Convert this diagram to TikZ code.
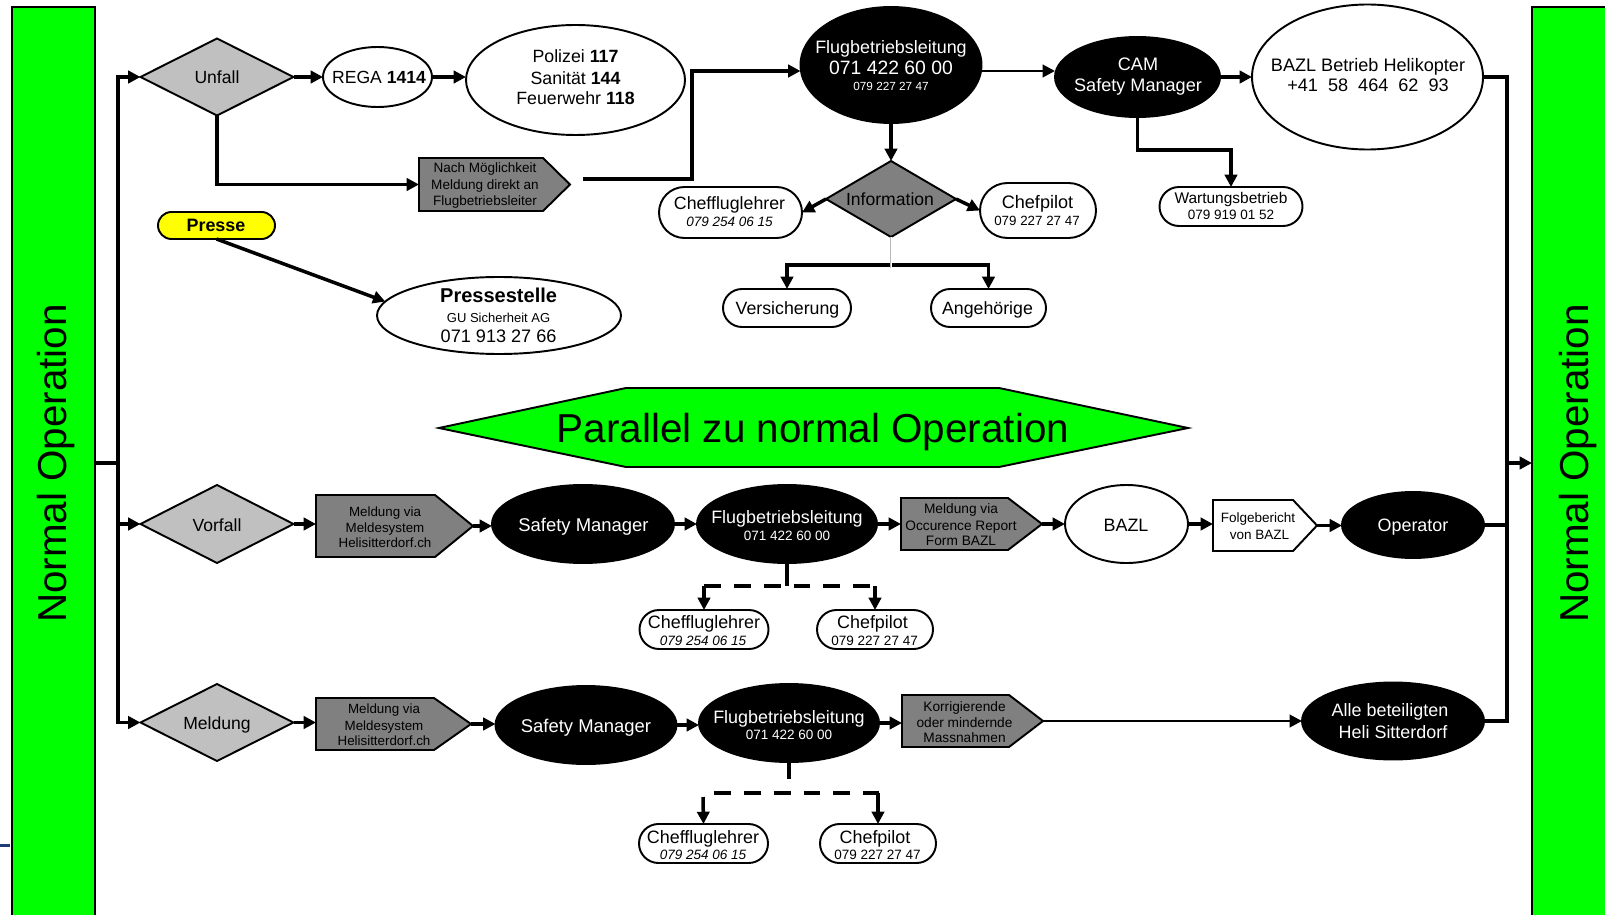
\documentclass[tikz,border=0pt]{standalone}
\usepackage{fontspec}
\setmainfont{Liberation Sans}
\usetikzlibrary{shapes.geometric,shapes.misc,arrows.meta,calc}
\definecolor{ngreen}{HTML}{00FF00}
\definecolor{lgray}{HTML}{C0C0C0}
\definecolor{dgray}{HTML}{808080}
\definecolor{nyellow}{HTML}{FFFF00}
\definecolor{navyblue}{HTML}{1F3A78}
\newcommand\fsz[1]{\fontsize{#1pt}{#1pt}\selectfont}
% #1 name, #2 x left, #3 x end of flat part, #4 x tip, #5 y top, #6 y bottom, #7 fill
\newcommand\mypenta[7]{%
  \draw[outl, fill=#7] (#2,#5) -- (#3,#5) -- (#4,{(#5+#6)/2}) -- (#3,#6) -- (#2,#6) -- cycle;
  \coordinate (#1-w) at (#2,{(#5+#6)/2});
  \coordinate (#1-e) at (#4,{(#5+#6)/2});}
\begin{document}
\begin{tikzpicture}[x=0.02cm,y=-0.02cm,
  outl/.style={draw=black, line width=1.1pt},
  sz/.style 2 args={minimum width={#1*0.02cm}, minimum height={#2*0.02cm}},
  basic/.style={inner sep=0pt, outer sep=0pt},
  ell/.style={basic, ellipse, outl, fill=white},
  bell/.style={basic, ellipse, outl, fill=black},
  dia/.style={basic, diamond, outl},
  stad/.style={basic, rounded rectangle, outl, fill=white},
  tx/.style={inner sep=0pt, anchor=base, text=black},
  wtx/.style={inner sep=0pt, anchor=base, text=white},
  ln/.style={line width=2pt},
  conn/.style={line width=2pt, -{Triangle[length=7pt,width=7pt]}},
  thinconn/.style={line width=1.6pt, -{Triangle[length=7pt,width=7pt]}},
  dln/.style={line width=2.2pt, dash pattern=on 9.6pt off 7.4pt},
]
\useasboundingbox (0,0) rectangle (1605,915);
\fill[white] (0,0) rectangle (1605,915);

% side bars
\node[basic, rectangle, outl, fill=ngreen, sz={83}{918}] (leftbar) at (53.5,466) {};
\node[basic, rectangle, outl, fill=ngreen, sz={88}{918}] (rightbar) at (1576,466) {};
\node[tx, rotate=90, font=\fsz{23}] (lefttxt) at (66,463.5) {Normal Operation};
\node[tx, rotate=90, font=\fsz{23}] (righttxt) at (1588,463.5) {Normal Operation};
\draw[navyblue, line width=1.7pt] (0,845) -- (10,845);

% ---------- top row (Unfall)
\node[dia, fill=lgray, sz={153}{77}] (unfall) at (217,77) {};
\node[tx, font=\fsz{10}] (unfall-t) at (217,84) {Unfall};
\node[ell, sz={109}{60}] (rega) at (377.5,77) {};
\node[tx, font=\fsz{10}] (rega-t) at (379,84) {REGA \textbf{1414}};
\node[ell, sz={219}{110}] (polizei) at (575.5,80) {};
\node[tx, font=\fsz{10.1}] (pol-a) at (575.5,63) {Polizei \textbf{117}};
\node[tx, font=\fsz{10.1}] (pol-b) at (575.5,85) {Sanität \textbf{144}};
\node[tx, font=\fsz{10.1}] (pol-c) at (575.5,105) {Feuerwehr \textbf{118}};

\mypenta{nach}{419}{543}{570}{158}{211}{dgray}
\node[tx, font=\fsz{7.7}] (nach-a) at (485,173) {Nach Möglichkeit};
\node[tx, font=\fsz{7.7}] (nach-b) at (485,190) {Meldung direkt an};
\node[tx, font=\fsz{7.7}] (nach-c) at (485,206) {Flugbetriebsleiter};

\node[bell, sz={181}{116}] (flug1) at (891,65) {};
\node[wtx, font=\fsz{10.2}] (flug1-a) at (891,54) {Flugbetriebsleitung};
\node[wtx, font=\fsz{11}] (flug1-b) at (891,75) {071 422 60 00};
\node[wtx, font=\fsz{6.7}] (flug1-c) at (891,91) {079 227 27 47};

\node[bell, sz={165}{80}] (cam) at (1137.5,77) {};
\node[wtx, font=\fsz{10.3}] (cam-a) at (1138,71) {CAM};
\node[wtx, font=\fsz{10.3}] (cam-b) at (1138,92) {Safety Manager};

\node[ell, sz={231}{145}] (bazl1) at (1367.5,77) {};
\node[tx, font=\fsz{10.3}] (bazl1-a) at (1368,72) {BAZL Betrieb Helikopter};
\node[tx, font=\fsz{10.3}] (bazl1-b) at (1368,92) {+41~~58~~464~~62~~93};

\node[stad, sz={143}{39}] (wart) at (1231,206.5) {};
\node[tx, font=\fsz{8.8}] (wart-a) at (1231,204) {Wartungsbetrieb};
\node[tx, font=\fsz{7.7}] (wart-b) at (1231,220) {079 919 01 52};

\node[dia, fill=dgray, sz={130}{76}] (info) at (891,199) {};
\node[tx, font=\fsz{10}] (info-t) at (890,206) {Information};

\node[stad, sz={143}{51}] (cfl1) at (730.5,212.5) {};
\node[tx, font=\fsz{10.1}] (cfl1-a) at (729.5,210) {Cheffluglehrer};
\node[tx, font=\fsz{7.7}\itshape] (cfl1-b) at (729.5,227) {079 254 06 15};

\node[stad, sz={116}{55}] (cp1) at (1038,210.5) {};
\node[tx, font=\fsz{10.3}] (cp1-a) at (1037.5,209) {Chefpilot};
\node[tx, font=\fsz{7.6}] (cp1-b) at (1037,226) {079 227 27 47};

\node[stad, sz={128}{38}] (vers) at (787,308) {};
\node[tx, font=\fsz{10.1}] (vers-t) at (787.5,315) {Versicherung};
\node[stad, sz={115}{38}] (angeh) at (988.5,308) {};
\node[tx, font=\fsz{10.1}] (angeh-t) at (987.5,315) {Angehörige};

\node[stad, fill=nyellow, sz={117}{27}] (presse) at (216.5,225.5) {};
\node[tx, font=\fsz{10.2}\bfseries] (presse-t) at (216,232) {Presse};

\node[ell, sz={244}{77}] (pstelle) at (499,315.5) {};
\node[tx, font=\fsz{11.4}\bfseries] (pst-a) at (498.6,303) {Pressestelle};
\node[tx, font=\fsz{7.4}] (pst-b) at (498.6,323) {GU Sicherheit AG};
\node[tx, font=\fsz{10.3}] (pst-c) at (498.6,342) {071 913 27 66};

% ---------- banner
\draw[outl, fill=ngreen] (439,428) -- (626,388) -- (999,388) -- (1188,428) -- (999,467) -- (626,467) -- cycle;
\node[tx, font=\fsz{23}] (parallel) at (813,442) {Parallel zu normal Operation};

% ---------- Vorfall row
\node[dia, fill=lgray, sz={153}{78}] (vorfall) at (217,524) {};
\node[tx, font=\fsz{10}] (vorfall-t) at (217,531) {Vorfall};
\mypenta{mv1}{316}{435}{473}{495}{557}{dgray}
\node[tx, font=\fsz{7.6}] (mv1-a) at (385,516) {Meldung via};
\node[tx, font=\fsz{7.6}] (mv1-b) at (385,532) {Meldesystem};
\node[tx, font=\fsz{7.6}] (mv1-c) at (385,547) {Helisitterdorf.ch};
\node[bell, sz={182}{78}] (sm1) at (583,524) {};
\node[wtx, font=\fsz{10.5}] (sm1-t) at (583.5,531) {Safety Manager};
\node[bell, sz={180}{78}] (flug2) at (787,524) {};
\node[wtx, font=\fsz{10.2}] (flug2-a) at (787,523) {Flugbetriebsleitung};
\node[wtx, font=\fsz{7.7}] (flug2-b) at (787,540) {071 422 60 00};
\mypenta{occ}{901}{1008}{1042}{498}{550}{dgray}
\node[tx, font=\fsz{7.8}] (occ-a) at (961,513) {Meldung via};
\node[tx, font=\fsz{7.8}] (occ-b) at (961,530) {Occurence Report};
\node[tx, font=\fsz{7.8}] (occ-c) at (961,545) {Form BAZL};
\node[ell, sz={123}{78}] (bazl2) at (1126.5,524) {};
\node[tx, font=\fsz{10.2}] (bazl2-t) at (1126,531.5) {BAZL};
\mypenta{folge}{1213}{1293}{1317}{500}{551}{white}
\node[tx, font=\fsz{7.7}] (folge-a) at (1258,522) {Folgebericht};
\node[tx, font=\fsz{7.7}] (folge-b) at (1259.5,539.5) {von BAZL};
\node[bell, sz={142}{66}] (oper) at (1413,525) {};
\node[wtx, font=\fsz{10.2}] (oper-t) at (1413,531) {Operator};
\node[stad, sz={129}{39}] (cfl2) at (704,629.5) {};
\node[tx, font=\fsz{10.2}] (cfl2-a) at (704,628) {Cheffluglehrer};
\node[tx, font=\fsz{7.7}\itshape] (cfl2-b) at (703,645) {079 254 06 15};
\node[stad, sz={116}{39}] (cp2) at (875,629.5) {};
\node[tx, font=\fsz{10.2}] (cp2-a) at (872.5,628) {Chefpilot};
\node[tx, font=\fsz{7.7}] (cp2-b) at (874.6,645) {079 227 27 47};

% ---------- Meldung row
\node[dia, fill=lgray, sz={153}{77}] (meldung) at (217,722.5) {};
\node[tx, font=\fsz{10}] (meldung-t) at (217,729) {Meldung};
\mypenta{mv2}{316}{434}{471}{698}{750}{dgray}
\node[tx, font=\fsz{7.6}] (mv2-a) at (384,713.7) {Meldung via};
\node[tx, font=\fsz{7.6}] (mv2-b) at (384,730.5) {Meldesystem};
\node[tx, font=\fsz{7.6}] (mv2-c) at (384,745) {Helisitterdorf.ch};
\node[bell, sz={181}{78}] (sm2) at (586,725) {};
\node[wtx, font=\fsz{10.5}] (sm2-t) at (586,732) {Safety Manager};
\node[bell, sz={180}{78}] (flug3) at (789,723) {};
\node[wtx, font=\fsz{10.2}] (flug3-a) at (789,723) {Flugbetriebsleitung};
\node[wtx, font=\fsz{7.7}] (flug3-b) at (789,739) {071 422 60 00};
\mypenta{korr}{902}{1009}{1043}{695}{747}{dgray}
\node[tx, font=\fsz{7.8}] (korr-a) at (964.5,711) {Korrigierende};
\node[tx, font=\fsz{7.8}] (korr-b) at (964.5,727) {oder mindernde};
\node[tx, font=\fsz{7.8}] (korr-c) at (964.5,742.5) {Massnahmen};
\node[bell, sz={182}{77}] (alle) at (1393,721) {};
\node[wtx, font=\fsz{10.2}] (alle-a) at (1390,716) {Alle beteiligten};
\node[wtx, font=\fsz{10.2}] (alle-b) at (1393,738) {Heli Sitterdorf};
\node[stad, sz={129}{39}] (cfl3) at (703.5,843.5) {};
\node[tx, font=\fsz{10.2}] (cfl3-a) at (703,843) {Cheffluglehrer};
\node[tx, font=\fsz{7.7}\itshape] (cfl3-b) at (703,859) {079 254 06 15};
\node[stad, sz={116}{39}] (cp3) at (878,843.5) {};
\node[tx, font=\fsz{10.2}] (cp3-a) at (875,843) {Chefpilot};
\node[tx, font=\fsz{7.7}] (cp3-b) at (877.5,859) {079 227 27 47};

% ---------- connectors: left spine
\coordinate (lt1) at (118,77);
\coordinate (lj) at (118,463);
\coordinate (lt2) at (118,524);
\coordinate (lt3) at (118,722.5);
\draw[ln, line cap=rect] (lt1) -- (lt3);
\draw[ln] (leftbar.east |- lj) -- (lj);
\draw[conn] (lt1) -- (unfall.west);
\draw[conn] (lt2) -- (vorfall.west);
\draw[conn] (lt3) -- (meldung.west);

% top row
\draw[conn] (unfall.east) -- (rega.west);
\draw[conn] (rega.east) -- (rega.east -| polizei.west);
\draw[conn] (unfall.south) |- (nach-w);
\coordinate (nachout) at (583,179);
\coordinate (c1) at (692,71);
\draw[conn] (nachout) -| (c1) -- (c1 -| flug1.west);
\coordinate (fc) at (1000,71);
\draw[thinconn] (flug1.east |- fc) -- (cam.west |- fc);
\draw[conn] (cam.east) -- (bazl1.west);
\coordinate (cw) at (1231,150);
\draw[conn] (cam.south) |- (cw) -- (wart.north);
\draw[conn] (flug1.south) -- (info.north);
\draw[conn] (info.west) -- (cfl1.east);
\draw[conn] (info.east) -- (cp1.west);
\coordinate (ic) at (891,265);
\coordinate (icb) at (891,268);
\draw[conn] (ic) -| (vers.north);
\draw[conn] (ic) -| (angeh.north);
\draw[gray!55, line width=1.6pt] (info.south) -- (icb);
\draw[white, line width=0.5pt] (info.south) -- (icb);
\draw[conn] (presse.south) -- (pstelle.173);

% Vorfall row
\draw[conn] (vorfall.east) -- (vorfall.east -| mv1-w);
\draw[conn] (mv1-e) -- (mv1-e -| sm1.west);
\draw[conn] (sm1.east) -- (flug2.west);
\draw[conn] (flug2.east) -- (flug2.east -| occ-w);
\draw[conn] (occ-e) -- (occ-e -| bazl2.west);
\draw[conn] (bazl2.east) -- (bazl2.east -| folge-w);
\draw[conn] (folge-e) -- (folge-e -| oper.west);
\coordinate (d1c) at (787,586);
\coordinate (d1l) at (704,586);
\coordinate (d1r) at (875,586);
\draw[ln] (flug2.south) -- (d1c);
\draw[dln] (d1l) -- (d1r);
\draw[conn] (d1l) -- (cfl2.north);
\draw[conn] (d1r) -- (cp2.north);

% Meldung row
\draw[conn] (meldung.east) -- (meldung.east -| mv2-w);
\draw[conn] (mv2-e) -- (mv2-e -| sm2.west);
\draw[conn] (sm2.east) -- (sm2.east -| flug3.west);
\draw[conn] (flug3.east) -- (flug3.east -| korr-w);
\draw[thinconn] (korr-e) -- (korr-e -| alle.west);
\coordinate (d2c) at (789,779);
\coordinate (d2l) at (714,793);
\coordinate (d2r) at (879,793);
\coordinate (d2a) at (703,797);
\coordinate (d2b) at (878,793);
\draw[ln] (flug3.south) -- (d2c);
\draw[dln] (d2l) -- (d2r);
\draw[conn] (d2a) -- (cfl3.north);
\draw[conn] (d2b) -- (cp3.north);

% right spine
\coordinate (rt1) at (1507,77);
\coordinate (rtj) at (1507,463);
\coordinate (rt2) at (1507,525);
\coordinate (rt3) at (1507,721);
\draw[ln, line cap=rect] (rt1) -- (rt3);
\draw[ln] (bazl1.east) -- (rt1);
\draw[ln] (oper.east) -- (rt2);
\draw[ln] (alle.east) -- (rt3);
\draw[conn] (rtj) -- (rtj -| rightbar.west);
\end{tikzpicture}
\end{document}
